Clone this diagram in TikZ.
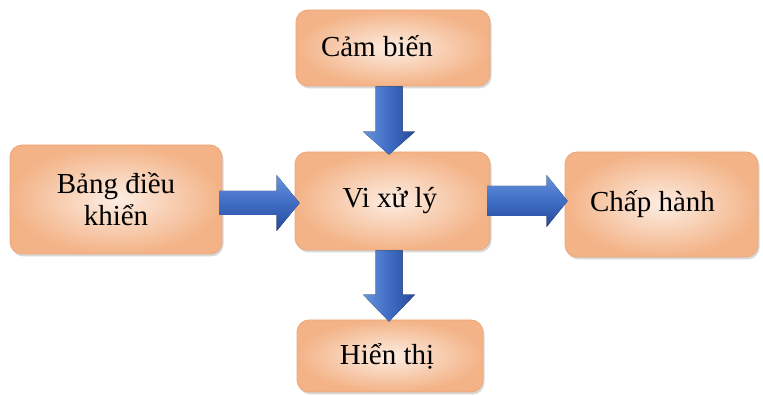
\documentclass[tikz,border=0pt]{standalone}
\usepackage{fontspec}
\setmainfont{Liberation Serif}
\usetikzlibrary{calc,shadows}
\definecolor{peachedge}{HTML}{F3B387}
\definecolor{peachlight}{HTML}{FDEDE2}
\definecolor{peachline}{HTML}{EDA77A}
\definecolor{arrowlight}{HTML}{6893DC}
\definecolor{arrowmid}{HTML}{3F6DC4}
\definecolor{arrowdark}{HTML}{27489A}
\tikzset{
  box/.style={rounded corners=12pt, draw=peachline, line width=0.8pt,
    inner color=peachlight, outer color=peachedge,
    drop shadow={shadow xshift=1.5pt, shadow yshift=-2.5pt, opacity=0.3},
    font=\fontsize{29}{32}\selectfont, align=center, inner sep=0pt},
  varrow/.style={left color=arrowlight, right color=arrowdark, middle color=arrowmid},
  harrow/.style={top color=arrowlight, bottom color=arrowdark, middle color=arrowmid},
}
\begin{document}
\begin{tikzpicture}[x=1pt,y=1pt]
  \fill[white] (0,0) rectangle (763,396);
  \useasboundingbox (0,0) rectangle (763,396);

  % blocks
  \node[box, minimum width=194pt, minimum height=76pt]  (cam)  at (393,348)
    {\raisebox{4pt}{Cảm biến}\hspace*{32pt}};
  \node[box, minimum width=212pt, minimum height=109pt] (bdk)  at (116,196.5)
    {Bảng điều\\khiển};
  \node[box, minimum width=195pt, minimum height=98pt]  (vxl)  at (392.5,195)
    {Vi xử lý\hspace*{5pt}};
  \node[box, minimum width=193pt, minimum height=105pt] (cha)  at (661.5,191.5)
    {Chấp hành\hspace*{18pt}};
  \node[box, minimum width=186pt, minimum height=72pt]  (hien) at (390,40)
    {Hiển thị\hspace*{6pt}};

  % arrow end points
  \coordinate (t1s) at ($(cam.south)+(-4,0)$);
  \coordinate (t1t) at ($(vxl.north)+(-3.5,-3)$);
  \coordinate (b1s) at ($(vxl.south)+(-3.5,0)$);
  \coordinate (b1t) at ($(b1s |- hien.north)+(0,-2)$);
  \coordinate (l1s) at ($(bdk.east)+(-3,-3.5)$);
  \coordinate (l1t) at ($(l1s -| vxl.west)+(5,0)$);
  \coordinate (r1s) at ($(vxl.east)+(-3,0)$);
  \coordinate (r1t) at ($(r1s -| cha.west)+(3,0)$);

  % Cảm biến -> Vi xử lý
  \fill[varrow] ($(t1s)+(-13.5,0)$) -- ($(t1t)+(-13.5,23)$) -- ($(t1t)+(-26,23)$)
    -- (t1t) -- ($(t1t)+(26,23)$) -- ($(t1t)+(13.5,23)$) -- ($(t1s)+(13.5,0)$) -- cycle;
  % Vi xử lý -> Hiển thị
  \fill[varrow] ($(b1s)+(-13.5,0)$) -- ($(b1t)+(-13.5,27)$) -- ($(b1t)+(-26,27)$)
    -- (b1t) -- ($(b1t)+(26,27)$) -- ($(b1t)+(13.5,27)$) -- ($(b1s)+(13.5,0)$) -- cycle;
  % Bảng điều khiển -> Vi xử lý
  \fill[harrow] ($(l1s)+(0,12)$) -- ($(l1t)+(-23,12)$) -- ($(l1t)+(-23,28)$)
    -- (l1t) -- ($(l1t)+(-23,-28)$) -- ($(l1t)+(-23,-12)$) -- ($(l1s)+(0,-12)$) -- cycle;
  % Vi xử lý -> Chấp hành
  \fill[harrow] ($(r1s)+(0,15)$) -- ($(r1t)+(-21,15)$) -- ($(r1t)+(-21,26)$)
    -- (r1t) -- ($(r1t)+(-21,-26)$) -- ($(r1t)+(-21,-15)$) -- ($(r1s)+(0,-15)$) -- cycle;
\end{tikzpicture}
\end{document}
